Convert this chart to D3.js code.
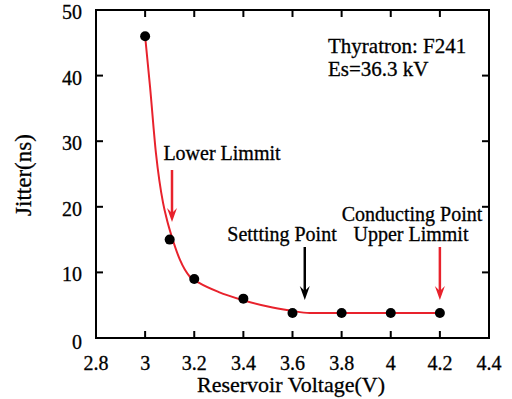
<!DOCTYPE html>
<html><head><meta charset="utf-8">
<script src="https://cdn.jsdelivr.net/npm/d3@7"></script>
<style>body{margin:0;background:#fff}svg{display:block}</style>
</head><body>
<svg id="c" width="512" height="399"></svg>
<script>
const pointX = [3.0, 3.1, 3.2, 3.4, 3.6, 3.8, 4.0, 4.2];
const pointY = [46, 15, 9, 6, 3.8, 3.8, 3.8, 3.8];
const fitX = [3.0, 3.02, 3.044, 3.073, 3.089, 3.109, 3.142, 3.183, 3.22, 3.3, 3.396, 3.5, 3.59, 3.67, 3.8, 4.0, 4.2];
const fitY = [46, 38.3, 28.2, 20.6, 18.0, 15.4, 11.9, 9.3, 8.4, 7.0, 5.8, 4.8, 4.2, 3.8, 3.8, 3.8, 3.8];
const xTicks = [2.8, 3, 3.2, 3.4, 3.6, 3.8, 4, 4.2, 4.4];
const yTicks = [0, 10, 20, 30, 40, 50];

const svg = d3.select("#c");
const L = 96, R = 489, T = 10, B = 338;
const x = d3.scaleLinear().domain([2.8, 4.4]).range([L, R]);
const y = d3.scaleLinear().domain([0, 50]).range([B, T]);
const font = "'Liberation Serif', 'Times New Roman', serif";
const red = "#e8222c";

svg.append("rect").attr("x", L).attr("y", T).attr("width", R - L).attr("height", B - T)
  .attr("fill", "none").attr("stroke", "#000").attr("stroke-width", 2);

const tl = 7;
function label(xv, yv, s, size, anchor) {
  return svg.append("text").attr("x", xv).attr("y", yv).attr("text-anchor", anchor || "middle")
    .attr("font-family", font).attr("font-size", size)
    .attr("stroke", "#000").attr("stroke-width", 0.3).attr("fill", "#000").text(s);
}
xTicks.forEach(v => {
  svg.append("line").attr("x1", x(v)).attr("x2", x(v)).attr("y1", B).attr("y2", B - tl).attr("stroke", "#000").attr("stroke-width", 2);
  svg.append("line").attr("x1", x(v)).attr("x2", x(v)).attr("y1", T).attr("y2", T + tl).attr("stroke", "#000").attr("stroke-width", 2);
  label(x(v), 370, v, 20);
});
yTicks.forEach(v => {
  svg.append("line").attr("x1", L).attr("x2", L + tl).attr("y1", y(v)).attr("y2", y(v)).attr("stroke", "#000").attr("stroke-width", 2);
  svg.append("line").attr("x1", R).attr("x2", R - tl).attr("y1", y(v)).attr("y2", y(v)).attr("stroke", "#000").attr("stroke-width", 2);
  label(82, y(v) + (v === 0 ? 11 : 9), v, 20, "end");
});

label(291, 392, "Reservoir Voltage(V)", 22);
label(0, 0, "Jitter(ns)", 23).attr("transform", "translate(31,175) rotate(-90)");

const fit = fitX.map((v, i) => [v, fitY[i]]);
svg.append("path").datum(fit)
  .attr("d", d3.line().x(d => x(d[0])).y(d => y(d[1])).curve(d3.curveMonotoneX))
  .attr("fill", "none").attr("stroke", red).attr("stroke-width", 2);

svg.selectAll("circle.p").data(pointX.map((v, i) => [v, pointY[i]])).enter()
  .append("circle").attr("cx", d => x(d[0])).attr("cy", d => y(d[1])).attr("r", 5).attr("fill", "#000");

function arrow(xv, y1, y2, color) {
  svg.append("line").attr("x1", xv).attr("x2", xv).attr("y1", y1).attr("y2", y2 - 8)
    .attr("stroke", color).attr("stroke-width", 2.5);
  svg.append("path").attr("d", `M${xv - 5},${y2 - 14} L${xv},${y2} L${xv + 5},${y2 - 14} L${xv},${y2 - 9} Z`)
    .attr("fill", color);
}
arrow(172, 170, 222, red);
arrow(x(3.65), 247, 300, "#000");
arrow(x(4.2), 247, 300, red);

label(222, 160, "Lower Limmit", 20);
label(282, 241, "Settting Point", 20);
label(412, 221, "Conducting Point", 20);
label(411, 241, "Upper Limmit", 20);
label(328, 53, "Thyratron: F241", 21, "start");
label(328, 76, "Es=36.3 kV", 21, "start");
</script>
</body></html>
